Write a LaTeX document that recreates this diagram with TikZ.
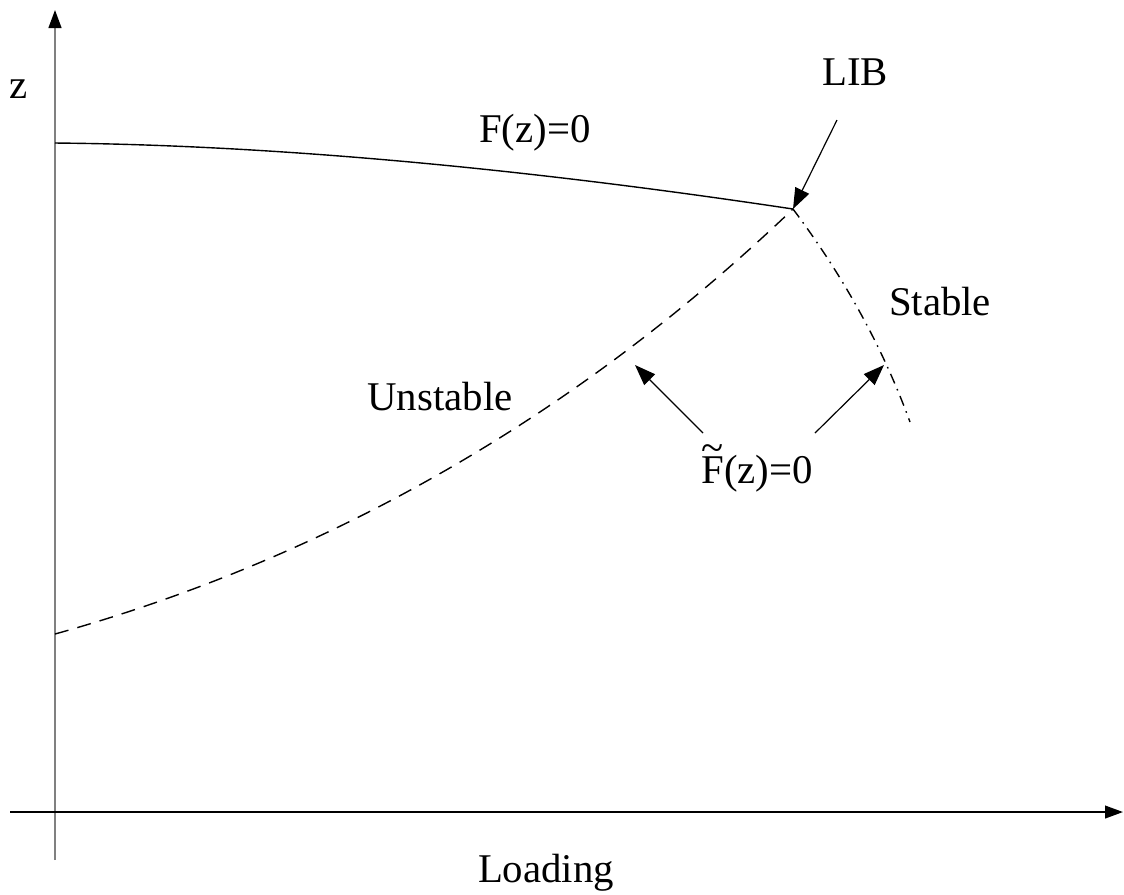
\documentclass[tikz,border=0pt]{standalone}
\usepackage{amsmath}
\usepackage{fontspec}
\setmainfont{Liberation Serif}
\usetikzlibrary{arrows.meta}

\newcommand{\tildeF}{\makebox[0pt][l]{\raisebox{0.52em}{\char"007E}}F}

\begin{document}
\begin{tikzpicture}[x=0.25pt,y=-0.25pt,
  lbl/.style={inner sep=0pt,anchor=base,font=\fontsize{10.2}{12}\selectfont},
  pointer/.style={-{Triangle[length=5.2pt,width=3.8pt]},line width=0.3pt},
  curve/.style={line width=0.35pt},
  dashcurve/.style={curve,dash pattern=on 3.5pt off 2.3pt},
  dotcurve/.style={curve,dash pattern=on 2.6pt off 1.5pt on 0.4pt off 1.5pt}]
\useasboundingbox (0,0) rectangle (1124,894);

\coordinate (ztop) at (55,10);
\coordinate (zbot) at (55,860);
\coordinate (xleft) at (10,812);
\coordinate (xend) at (1123,812);
\coordinate (fstart) at (55,143);
\coordinate (lib) at (793,209);
\coordinate (ustart) at (55,634);
\coordinate (send) at (910,422);
\coordinate (unpt) at (635,365);
\coordinate (stpt) at (884,365);
\coordinate (libtail) at (837,120);
\coordinate (ftl) at (703,433);
\coordinate (ftr) at (815,433);

\node[lbl] (zlab) at (19,98) {z};
\node[lbl] (load) at (546,882) {Loading};
\node[lbl] (flab) at (535,142) {F(z)=0};
\node[lbl] (liblab) at (855,85) {LIB};
\node[lbl] (stab) at (940,315) {Stable};
\node[lbl] (unst) at (440,410) {Unstable};
\node[lbl] (ftil) at (757,483) {\tildeF(z)=0};

% axes
\draw[gray,line width=0.5pt,-{Triangle[length=4.5pt,width=3.2pt,color=black]}] (zbot) -- (ztop);
\draw[line width=0.4pt,-{Triangle[length=4.5pt,width=3.2pt]}] (xleft) -- (xend);

% branches
\draw[curve] (fstart) .. controls (268,145) and (514,167) .. (lib);
\draw[dashcurve] (ustart) .. controls (330,557) and (576,416) .. (lib);
\draw[dotcurve] (lib) .. controls (844,277) and (883,348) .. (send);

\draw[pointer] (libtail) -- (lib);
\draw[pointer] (ftl) -- (unpt);
\draw[pointer] (ftr) -- (stpt);

\end{tikzpicture}
\end{document}
